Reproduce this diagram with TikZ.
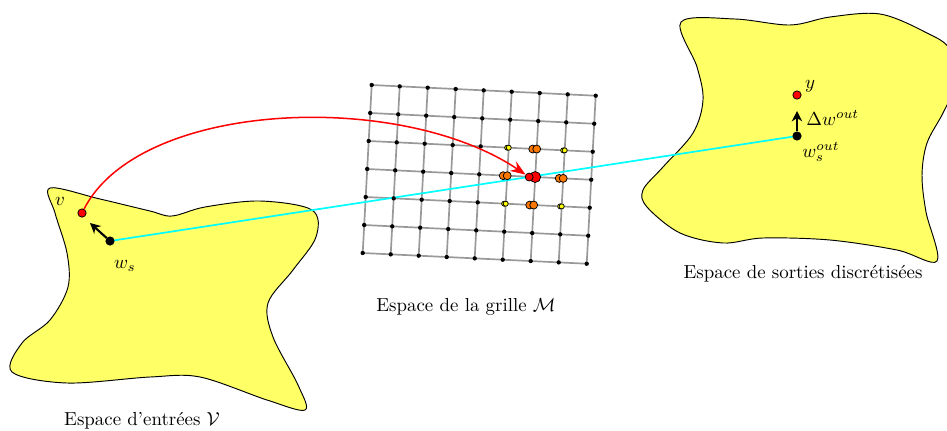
\documentclass[tikz,border=0pt]{standalone}
\usetikzlibrary{arrows.meta}
\definecolor{blobyellow}{RGB}{255,255,102}
\definecolor{linkcyan}{RGB}{0,255,255}
\definecolor{nborange}{RGB}{255,120,0}
\definecolor{nbyellow}{RGB}{255,255,0}
\begin{document}
\begin{tikzpicture}[x=0.53pt,y=-0.53pt,
  blob/.style={fill=blobyellow, draw=black, line width=0.5pt},
  gridline/.style={draw=gray!80, line width=0.9pt},
  gdot/.style={circle, fill=black, inner sep=0pt, minimum size=2.3pt},
  pnt/.style={circle, draw=black, line width=0.4pt, inner sep=0pt, minimum size=4.4pt},
  bigarrow/.style={line width=1.1pt, -{Stealth[length=5.5pt,width=5.5pt]}}]
\clip (0,0) rectangle (947,430);
% input space blob
\draw[blob] plot[smooth cycle, tension=0.55] coordinates {
 (50,188) (100,199) (150,211) (172,216) (205,207) (260,201) (312,210)
 (316,237) (293,270) (268,303) (273,337) (298,385) (305,410) (267,400) (200,377)
 (150,377) (67,383) (12,372) (22,343) (50,320) (68,287) (67,253) (55,213)};
% output space blob
\draw[blob] plot[smooth cycle, tension=0.55] coordinates {
 (681,22) (735,19) (790,25) (830,17) (880,14) (925,32) (950,50) (952,90)
 (943,113) (927,143) (922,175) (926,212) (937,261) (897,250) (830,240) (763,238)
 (723,243) (680,233) (647,207) (643,190) (663,167) (693,133) (703,100) (697,67)};
% grid
\foreach \i in {0,...,8}{\foreach \j in {0,...,6}{
  \coordinate (p-\i-\j) at ({371.7+28*\i-1.5*\j},{85+1.34*\i+28*\j});}}
\foreach \j in {0,...,6}{\draw[gridline] (p-0-\j) -- (p-8-\j);}
\foreach \i in {0,...,8}{\draw[gridline] (p-\i-0) -- (p-\i-6);}
% cyan link
\coordinate (ws) at (110,241);
\coordinate (wout) at (797,136);
\draw[linkcyan, line width=0.9pt] (ws) -- (wout);
% grid dots
\foreach \i in {0,...,8}{\foreach \j in {0,...,6}{
  \node[gdot] (g-\i-\j) at (p-\i-\j) {};}}
% neighbourhood
\foreach \a/\b in {5/2,7/2,5/4,7/4}{
  \node[pnt, fill=nbyellow, minimum size=2.7pt] (ya-\a-\b) at ([xshift=-0.8pt]p-\a-\b) {};
  \node[pnt, fill=nbyellow, minimum size=2.7pt] (yb-\a-\b) at (p-\a-\b) {};}
\foreach \a/\b in {5/3,6/2,7/3,6/4}{
  \node[pnt, fill=nborange, minimum size=4.2pt] (oa-\a-\b) at ([xshift=-2.1pt]p-\a-\b) {};
  \node[pnt, fill=nborange, minimum size=4.2pt] (ob-\a-\b) at (p-\a-\b) {};}
\node[pnt, fill=red, minimum size=5.8pt] (bigred) at (p-6-3) {};
\node[pnt, fill=red, minimum size=4.2pt] (bigred2) at ([xshift=-3.2pt]p-6-3) {};
% points
\node[pnt, fill=red] (v) at (82,213) {};
\node[pnt, fill=black] (wsn) at (ws) {};
\node[pnt, fill=red] (y) at (797,95) {};
\node[pnt, fill=black] (woutn) at (wout) {};
% red mapping arrow
\draw[red, line width=0.8pt, -{Stealth[length=8pt,width=6pt]}]
  (v) .. controls (140,100) and (400,90) .. (bigred2);
% update arrows
\coordinate (tipA) at (90,223);
\coordinate (tipB) at (797,111);
\draw[bigarrow] (wsn) -- (tipA);
\draw[bigarrow] (woutn) -- (tipB);
% labels
\node (lv) at (60,201) {$v$};
\node (lws) at (125,266) {$w_s$};
\node (ly) at (810,86) {$y$};
\node[anchor=west, inner sep=0pt] (ldw) at (806,118) {$\Delta w^{out}$};
\node[anchor=west, inner sep=0pt] (lwo) at (802,152) {$w_s^{out}$};
\node (lgrid) at (466,307) {Espace de la grille $\mathcal{M}$};
\node (lin) at (142,421) {Espace d'entrées $\mathcal{V}$};
\node (lout) at (803,274) {Espace de sorties discrétisées};
\end{tikzpicture}
\end{document}
